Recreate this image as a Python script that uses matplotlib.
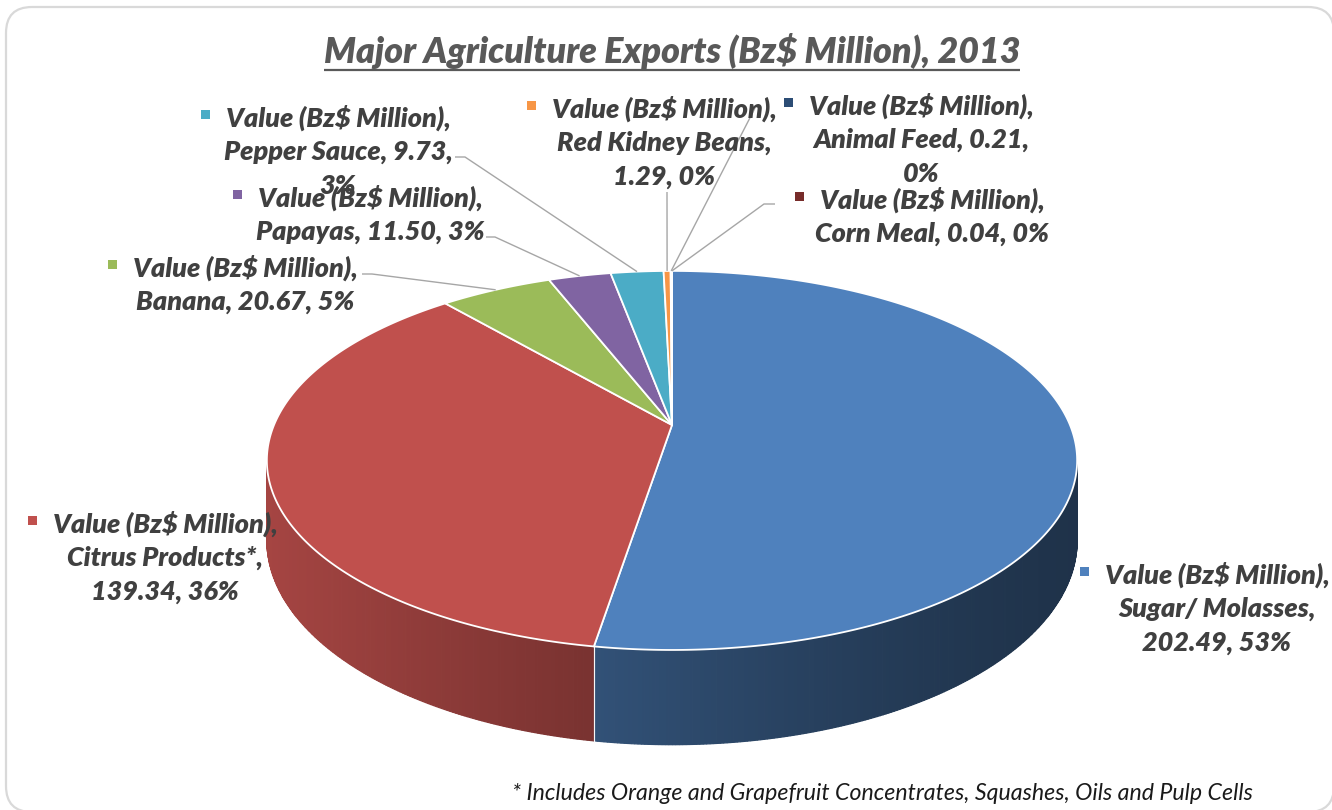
import numpy as np
import matplotlib
matplotlib.use("Agg")
import matplotlib.pyplot as plt
from matplotlib.patches import Polygon, Rectangle, FancyBboxPatch
from matplotlib.colors import to_rgb

# ---- data -------------------------------------------------------------
categories = ["Sugar/ Molasses", "Citrus Products*", "Banana", "Papayas",
              "Pepper Sauce", "Red Kidney Beans", "Animal Feed", "Corn Meal"]
values = [202.49, 139.34, 20.67, 11.50, 9.73, 1.29, 0.21, 0.04]
series_name = "Value (Bz$ Million)"
title = "Major Agriculture Exports (Bz$ Million), 2013"
footnote = "* Includes Orange and Grapefruit Concentrates, Squashes, Oils and Pulp Cells"

# ---- style ------------------------------------------------------------
colors = ["#4F81BD", "#C0504D", "#9BBB59", "#8064A2",
          "#4BACC6", "#F79646", "#2C4D75", "#772C2A"]
FONT = ["Lato", "DejaVu Sans"]
LABEL_WEIGHT = "heavy"
TEXT_C = "#404040"
LEADER_C = "#A6A6A6"

# label layout: block centre x, first-line centre y, words per line
label_layout = {
    "Sugar/ Molasses":  (1217, 573, [1, 1, 2]),
    "Citrus Products*": (165, 522, [1, 1, 2]),
    "Banana":           (245, 266, [1, 3]),
    "Papayas":          (370, 196, [1, 3]),
    "Pepper Sauce":     (338, 116, [1, 2, 1]),
    "Red Kidney Beans": (664, 107, [1, 1, 2]),
    "Animal Feed":      (921, 104, [1, 2, 1]),
    "Corn Meal":        (932, 198, [1, 3]),
}
# leader lines: points from the label side; the pie end is computed
leader_layout = {
    "Banana":           [(362, 274), (372, 274)],
    "Papayas":          [(486, 237), (495, 237)],
    "Pepper Sauce":     [(455, 157), (465, 157)],
    "Red Kidney Beans": [(667, 192)],
    "Animal Feed":      [(755, 108)],
    "Corn Meal":        [(775, 204), (764, 204)],
}
LINE_PITCH = 34

W, H = 1332, 810
fig = plt.figure(figsize=(W / 100, H / 100), dpi=100)
fig.patch.set_facecolor("white")
ax = fig.add_axes([0, 0, 1, 1])
ax.set_xlim(0, W)
ax.set_ylim(H, 0)
ax.axis("off")
renderer = fig.canvas.get_renderer()

# chart area frame
frame = FancyBboxPatch((6, 7), 1328, 805,
                       boxstyle="round,pad=0,rounding_size=26",
                       fc="white", ec="#D9D9D9", lw=1.6, zorder=0)
ax.add_patch(frame)

# ---- perspective projection of the pie disc ---------------------------
CX, CY = 672, 425
RA, RB, PK = 398.0, 182.9, 0.187
DEPTH = 77.0


def top_pt(t_deg, r=1.0):
    t = np.radians(t_deg)
    s = 1 + PK * r * np.sin(t)
    return CX + RA * r * np.cos(t) / s, CY - RB * r * np.sin(t) / s


def bot_pt(t_deg):
    x, y = top_pt(t_deg)
    return x, y + DEPTH / (1 + PK * np.sin(np.radians(t_deg)))


vals = np.array(values)
total = vals.sum()
spans = 360.0 * vals / total
starts = 90.0 - np.concatenate([[0], np.cumsum(spans)[:-1]])
ends = starts - spans
mids = (starts + ends) / 2
pcts = np.round(100 * vals / total).astype(int)

# visible part of the side wall (between silhouette points)
sil = np.degrees(np.arcsin(PK))
vis_lo, vis_hi = -180 + sil, -sil
x_left, x_right = top_pt(180 + sil)[0], top_pt(-sil)[0]


def shade(x):
    u = np.clip((x_right - x) / (x_right - x_left), 0, 1)
    return 0.39 + 0.47 * u ** 1.3


for i in range(len(vals)):
    lo, hi = max(ends[i], vis_lo), min(starts[i], vis_hi)
    if lo >= hi:
        continue
    base = np.array(to_rgb(colors[i]))
    ts = np.linspace(hi, lo, max(int((hi - lo) / 0.4), 2))
    for t1, t2 in zip(ts[:-1], ts[1:]):
        p = [top_pt(t1), top_pt(t2), bot_pt(t2), bot_pt(t1)]
        xm = (p[0][0] + p[1][0]) / 2
        c = np.clip(base * shade(xm), 0, 1)
        ax.add_patch(Polygon(p, closed=True, fc=c, ec=c, lw=0.9, zorder=2))

# slice seams on the side wall
for a in list(starts) + list(ends):
    if vis_lo < a < vis_hi:
        ax.plot(*zip(top_pt(a), bot_pt(a)), color="white", lw=0.8,
                alpha=0.8, zorder=3)

# top faces
for i in range(len(vals)):
    ts = np.linspace(starts[i], ends[i], max(int(spans[i] / 0.5), 2))
    pts = [top_pt(0, 0)] + [top_pt(t) for t in ts]
    ax.add_patch(Polygon(pts, closed=True, fc=colors[i], ec="white",
                         lw=1.3, joinstyle="round", zorder=4))

# ---- data labels ------------------------------------------------------
LABEL_SIZE = 15.0
probe = ax.text(0, 0, series_name + ",", fontsize=LABEL_SIZE, family=FONT,
                weight=LABEL_WEIGHT, style="italic")
w0 = probe.get_window_extent(renderer).width
probe.remove()
LABEL_SIZE *= 226.0 / w0

for i, cat in enumerate(categories):
    cx, cy, groups = label_layout[cat]
    words = [series_name + ",", cat + ",", f"{values[i]:.2f},", f"{pcts[i]}%"]
    lines, k = [], 0
    for g in groups:
        lines.append(" ".join(words[k:k + g]))
        k += g
    first = None
    for j, line in enumerate(lines):
        t = ax.text(cx, cy + j * LINE_PITCH, line, fontsize=LABEL_SIZE,
                    family=FONT, weight=LABEL_WEIGHT, style="italic",
                    color=TEXT_C, ha="center", va="center_baseline",
                    zorder=6)
        if j == 0:
            first = t
    bb = first.get_window_extent(renderer)
    left = ax.transData.inverted().transform((bb.x0, bb.y0))[0]
    ax.add_patch(Rectangle((left - 25, cy - 6.5), 9, 9, fc=colors[i],
                           ec="none", zorder=6))
    if cat in leader_layout:
        pts = leader_layout[cat] + [top_pt(mids[i])]
        ax.plot(*zip(*pts), color=LEADER_C, lw=1.0, zorder=5,
                solid_capstyle="butt")

# ---- title and footnote -------------------------------------------------
tsize = 20.0
tt = ax.text(672, 63, title, fontsize=tsize, family=FONT, weight=LABEL_WEIGHT,
             style="italic", color="#595959", ha="center", va="baseline")
tw = tt.get_window_extent(renderer).width
tt.set_fontsize(tsize * 695.0 / tw)
bb = tt.get_window_extent(renderer)
inv = ax.transData.inverted()
x0 = inv.transform((bb.x0, bb.y0))[0]
x1 = inv.transform((bb.x1, bb.y0))[0]
ax.plot([x0, x1], [69.5, 69.5], color="#595959", lw=1.6, solid_capstyle="butt")

fsize = 14.0
ft = ax.text(512, 800, footnote, fontsize=fsize, family=FONT, style="italic",
             color="#1a1a1a", ha="left", va="baseline")
fw = ft.get_window_extent(renderer).width
ft.set_fontsize(fsize * 743.0 / fw)

fig.savefig("out.png", dpi=100, facecolor="white")
